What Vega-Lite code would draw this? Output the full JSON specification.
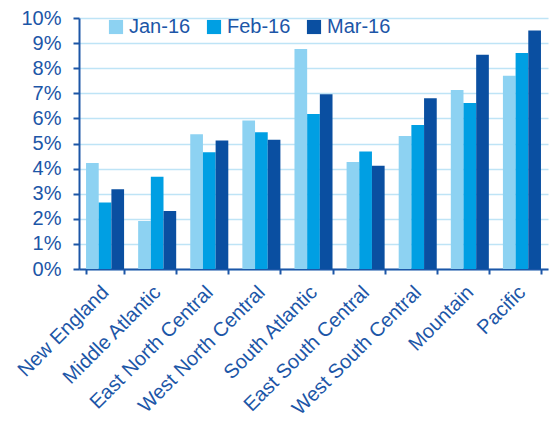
{
  "$schema": "https://vega.github.io/schema/vega-lite/v6.json",
  "width": 469,
  "height": 251,
  "autosize": {"type": "none"},
  "padding": {"left": 79, "top": 18, "right": 10, "bottom": 153},
  "background": "white",
  "config": {
    "view": {"stroke": null},
    "font": "Liberation Sans"
  },
  "data": {
    "values": [
      {"region": "New England", "month": "Jan-16", "value": 0.0422},
      {"region": "New England", "month": "Feb-16", "value": 0.0265},
      {"region": "New England", "month": "Mar-16", "value": 0.0318},
      {"region": "Middle Atlantic", "month": "Jan-16", "value": 0.0191},
      {"region": "Middle Atlantic", "month": "Feb-16", "value": 0.0368},
      {"region": "Middle Atlantic", "month": "Mar-16", "value": 0.0231},
      {"region": "East North Central", "month": "Jan-16", "value": 0.0537},
      {"region": "East North Central", "month": "Feb-16", "value": 0.0465},
      {"region": "East North Central", "month": "Mar-16", "value": 0.0512},
      {"region": "West North Central", "month": "Jan-16", "value": 0.0592},
      {"region": "West North Central", "month": "Feb-16", "value": 0.0545},
      {"region": "West North Central", "month": "Mar-16", "value": 0.0515},
      {"region": "South Atlantic", "month": "Jan-16", "value": 0.0876},
      {"region": "South Atlantic", "month": "Feb-16", "value": 0.0618},
      {"region": "South Atlantic", "month": "Mar-16", "value": 0.0696},
      {"region": "East South Central", "month": "Jan-16", "value": 0.0426},
      {"region": "East South Central", "month": "Feb-16", "value": 0.0468},
      {"region": "East South Central", "month": "Mar-16", "value": 0.0411},
      {"region": "West South Central", "month": "Jan-16", "value": 0.0530},
      {"region": "West South Central", "month": "Feb-16", "value": 0.0574},
      {"region": "West South Central", "month": "Mar-16", "value": 0.0680},
      {"region": "Mountain", "month": "Jan-16", "value": 0.0713},
      {"region": "Mountain", "month": "Feb-16", "value": 0.0661},
      {"region": "Mountain", "month": "Mar-16", "value": 0.0854},
      {"region": "Pacific", "month": "Jan-16", "value": 0.0770},
      {"region": "Pacific", "month": "Feb-16", "value": 0.0861},
      {"region": "Pacific", "month": "Mar-16", "value": 0.0950}
    ]
  },
  "mark": {"type": "bar"},
  "encoding": {
    "x": {
      "field": "region",
      "type": "nominal",
      "sort": null,
      "scale": {"paddingInner": 0.27, "paddingOuter": 0.135},
      "axis": {
        "title": null,
        "labelAngle": -45,
        "labelAlign": "right",
        "labelBaseline": "middle",
        "labelFontSize": 20,
        "labelColor": "#1C56A7",
        "labelPadding": 15,
        "labelLimit": 300,
        "tickBand": "extent",
        "tickColor": "#1C56A7",
        "tickSize": 5,
        "tickWidth": 2,
        "domainColor": "#1C56A7",
        "domainWidth": 2,
        "grid": false
      }
    },
    "xOffset": {"field": "month", "type": "nominal", "sort": ["Jan-16", "Feb-16", "Mar-16"], "scale": {"paddingInner": 0, "paddingOuter": 0}},
    "y": {
      "field": "value",
      "type": "quantitative",
      "scale": {"domain": [0, 0.1]},
      "axis": {
        "title": null,
        "format": ".0%",
        "values": [0, 0.01, 0.02, 0.03, 0.04, 0.05, 0.06, 0.07, 0.08, 0.09, 0.1],
        "labelOverlap": false,
        "labelFontSize": 20,
        "labelColor": "#1C56A7",
        "labelPadding": 12,
        "tickColor": "#1C56A7",
        "tickSize": 6,
        "tickWidth": 2,
        "domainColor": "#1C56A7",
        "domainWidth": 2,
        "gridColor": "#BEE4F6",
        "gridWidth": 1.5
      }
    },
    "color": {
      "field": "month",
      "type": "nominal",
      "sort": ["Jan-16", "Feb-16", "Mar-16"],
      "scale": {"domain": ["Jan-16", "Feb-16", "Mar-16"], "range": ["#8DD2F2", "#009FE3", "#0A4FA1"]},
      "legend": {
        "title": null,
        "orient": "none",
        "direction": "horizontal",
        "legendX": 27,
        "legendY": -1,
        "symbolType": "square",
        "symbolSize": 200,
        "symbolStrokeWidth": 0,
        "labelFontSize": 20,
        "labelColor": "#1C56A7",
        "labelOffset": 3,
        "columnPadding": 13
      }
    }
  }
}
